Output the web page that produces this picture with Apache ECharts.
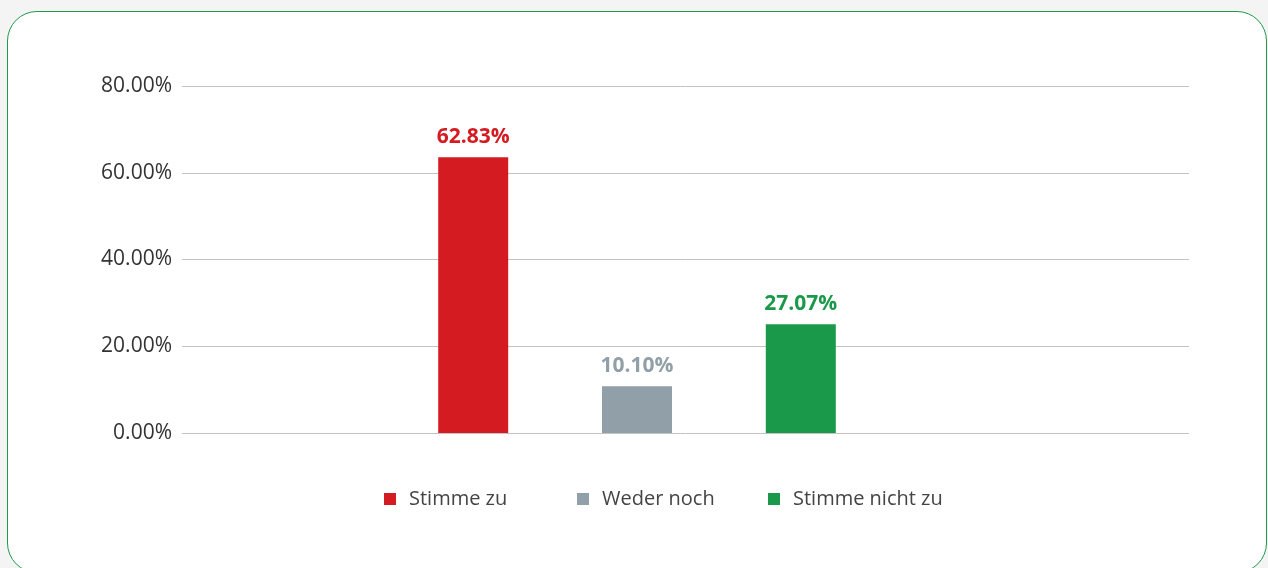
<!DOCTYPE html>
<html>
<head>
<meta charset="utf-8">
<script src="https://cdn.jsdelivr.net/npm/echarts@6/dist/echarts.min.js"></script>
<style>
  html, body { margin: 0; padding: 0; width: 1268px; height: 568px; overflow: hidden; background: #f4f4f4; }
  #box { position: absolute; left: 7px; top: 11px; width: 1258px; height: 560px; border: 1px solid #1e9a4b; border-radius: 30px; background: #ffffff; }
  #chart { position: absolute; left: 0; top: 0; width: 1268px; height: 568px; }
</style>
</head>
<body>
<div id="box"></div>
<div id="chart"></div>
<script>
const categories = ['Antwort'];
const seriesNames = ['Stimme zu', 'Weder noch', 'Stimme nicht zu'];
const seriesValues = [63.6, 10.8, 25.1];
const labelTexts = ['62.83%', '10.10%', '27.07%'];
const seriesColors = ['#d51b22', '#91a0a8', '#1b994a'];
const yMin = 0, yMax = 80, yInterval = 20;

const chart = echarts.init(document.getElementById('chart'));
const font = '"Open Sans", "Noto Sans", sans-serif';

const series = seriesNames.map((name, i) => ({
  name: name,
  type: 'bar',
  xAxisIndex: 1,
  yAxisIndex: 1,
  barWidth: 70,
  barGap: '134%',
  data: [seriesValues[i]],
  itemStyle: { color: seriesColors[i] },
  label: {
    show: true,
    position: 'top',
    distance: 10,
    formatter: () => labelTexts[i],
    color: seriesColors[i],
    fontFamily: font,
    fontWeight: 'bold',
    fontSize: 21
  }
}));

const legendLefts = [384, 577, 768];
const legends = seriesNames.map((name, i) => ({
  left: legendLefts[i],
  top: 489,
  padding: 0,
  itemWidth: 12,
  itemHeight: 12,
  icon: 'rect',
  data: [name],
  textStyle: { color: '#444444', fontSize: 20, fontFamily: font, padding: [0, 0, 0, 8] }
}));

chart.setOption({
  animation: false,
  textStyle: { fontFamily: font },
  grid: [
    { left: 182, right: 79, top: 86, bottom: 135 },
    { left: 182, width: 910, top: 86, bottom: 135 }
  ],
  xAxis: [
    { type: 'category', gridIndex: 0, data: categories, show: false },
    { type: 'category', gridIndex: 1, data: categories, show: false }
  ],
  yAxis: [
    {
      type: 'value', gridIndex: 0, min: yMin, max: yMax, interval: yInterval,
      axisLine: { show: false }, axisTick: { show: false },
      axisLabel: {
        margin: 10, color: '#333333', fontSize: 21, fontFamily: font,
        formatter: v => v.toFixed(2) + '%'
      },
      splitLine: { lineStyle: { color: '#c3c3c3', width: 1 } }
    },
    {
      type: 'value', gridIndex: 1, min: yMin, max: yMax, interval: yInterval,
      show: false, splitLine: { show: false }
    }
  ],
  legend: legends,
  series: series
});
</script>
</body>
</html>
